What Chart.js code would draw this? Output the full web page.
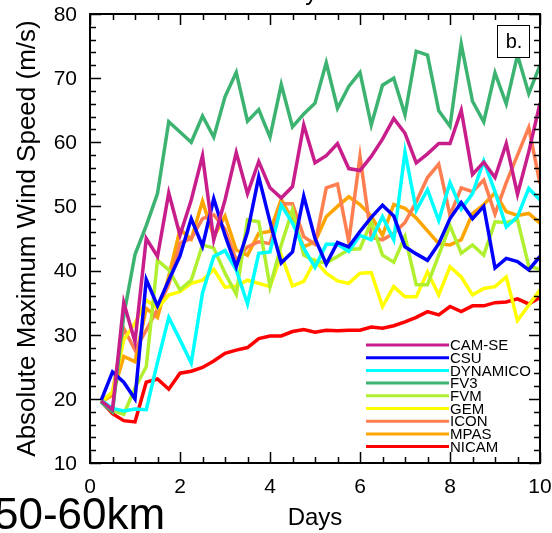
<!DOCTYPE html>
<html lang="en">
<head>
    <meta charset="UTF-8">
    <title>Absolute Maximum Wind Speed</title>
    <style>
        body {
            margin: 0;
            background-color: #fff;
            overflow: hidden;
        }
        .chart-container {
            width: 552px;
            height: 533px;
        }
    </style>
    <script src="https://cdn.jsdelivr.net/npm/chart.js"></script>
</head>
<body>
    <div class="chart-container">
        <canvas id="windChart" width="552" height="533"></canvas>
    </div>
    <script>
        // days (6-hourly output)
        const days = [0.25, 0.5, 0.75, 1, 1.25, 1.5, 1.75, 2, 2.25, 2.5,
                      2.75, 3, 3.25, 3.5, 3.75, 4, 4.25, 4.5, 4.75, 5,
                      5.25, 5.5, 5.75, 6, 6.25, 6.5, 6.75, 7, 7.25, 7.5,
                      7.75, 8, 8.25, 8.5, 8.75, 9, 9.25, 9.5, 9.75, 10];

        const camse = [19.7, 18.3, 35, 28.9, 45, 42.2, 52.1, 45.5, 51, 57.9,
                       44.8, 51, 58.4, 52, 57, 52.9, 51.3, 53.1, 62.7, 56.8,
                       57.9, 59.8, 55.9, 55.6, 57.8, 60.5, 63.7, 61.4, 56.8, 58.2,
                       59.8, 59.8, 65, 55, 56.9, 54.5, 59.8, 51.9, 58.5, 66.1];
        const csu = [19.8, 24.2, 22.6, 20, 38.6, 34.5, 38.5, 42.3, 48.1, 43.8,
                     51.2, 45.5, 40.6, 46, 54.6, 47.6, 41.2, 42.9, 51.6, 45,
                     41, 44.4, 43.7, 46.1, 48.3, 50.2, 48.5, 43.7, 42.6, 41.6,
                     44.2, 48.1, 50.6, 48.1, 50, 40.4, 41.9, 41.4, 40.1, 42.2];
        const dynamico = [19.8, 18.5, 18.1, 18.4, 18.3, 25.7, 32.7, 29.2, 25.6, 36.5,
                          42.2, 43.1, 40.1, 34.8, 42.7, 42.9, 50.2, 47.4, 43.5, 40.5,
                          44.1, 44.1, 43, 45.5, 44.8, 48.4, 44.8, 58.5, 49.4, 52.6,
                          47.8, 53.7, 49.6, 52, 57.1, 52.3, 46.8, 48.4, 52.8, 51];
        const fv3 = [19.5, 18, 33, 42.5, 47, 52, 63.2, 61.6, 60, 64.1,
                     60.8, 67.1, 70.9, 63.3, 65.1, 60.8, 69, 62.4, 64.4, 66.1,
                     72.4, 65.3, 68.7, 70.9, 62.7, 68.9, 70, 64.3, 74.2, 73.6,
                     64.9, 62.5, 75.3, 66.4, 63.2, 70.8, 66, 73.6, 67.6, 72];
        const fvm = [19.5, 18.2, 17.6, 21.7, 25, 41.6, 40.1, 37, 38.5, 44,
                     43.5, 39.6, 36.3, 47.9, 47.6, 37.5, 44, 49.5, 42.4, 41.5,
                     41.2, 42.2, 43.3, 43.4, 47.6, 42.4, 41.3, 45.3, 37.8, 37.8,
                     42.4, 47, 42.7, 44, 42.4, 47.6, 47.5, 47.9, 40.7, 40.2];
        const gem = [19.5, 21.1, 29.2, 31.8, 35.4, 34.1, 36.2, 36.7, 38, 38.5,
                     40.2, 37.4, 37.6, 38.5, 38, 37.5, 42.4, 37.6, 38.3, 41.6,
                     39.6, 38.4, 38, 39.6, 39.7, 34.4, 37.5, 35.9, 35.9, 39.8,
                     36.2, 40.6, 39, 36.2, 37.2, 37.5, 39, 32.2, 34.6, 37];
        const icon = [19.6, 21, 31, 27.6, 30.7, 34, 37.8, 44.3, 45, 48.1,
                      48.7, 46.5, 41.6, 43.7, 44.5, 44.2, 50.4, 50.4, 45.3, 44.1,
                      52.9, 53.5, 44.5, 57.8, 45.2, 44.8, 45.8, 47.5, 50.7, 54.5,
                      56.6, 48.6, 52.9, 52.3, 54.1, 48.8, 53.7, 58, 62.3, 53.5];
        const mpas = [19.5, 20.6, 26.6, 25.8, 34.1, 32.7, 39.1, 46.4, 44.9, 50.8,
                      45.3, 48.5, 43.2, 42.4, 45.8, 46.1, 51.1, 47.9, 43.7, 44.5,
                      48.4, 50, 51.5, 50.3, 48.5, 45.5, 50.3, 49.7, 48.2, 46.2,
                      44.2, 44, 44.8, 48.9, 50.3, 52.1, 49.2, 48.6, 48.9, 47.4];
        const nicam = [19.6, 17.7, 16.6, 16.4, 22.6, 23.1, 21.5, 24, 24.3, 24.9,
                       25.9, 27.1, 27.6, 28, 29.4, 29.8, 29.8, 30.5, 30.8, 30.4,
                       30.7, 30.6, 30.7, 30.7, 31.2, 31, 31.4, 32, 32.7, 33.6,
                       33.1, 34.4, 33.6, 34.5, 34.5, 35, 35.1, 35.6, 34.8, 35.8];

        const modelNames = ['CAM-SE', 'CSU', 'DYNAMICO', 'FV3', 'FVM', 'GEM', 'ICON', 'MPAS', 'NICAM'];
        const modelValues = [camse, csu, dynamico, fv3, fvm, gem, icon, mpas, nicam];
        const modelColors = ['#c81e8c', '#0000ff', '#00ffff', '#3cb371', '#b0f030',
                             '#ffff00', '#ff7f50', '#ffa500', '#ff0000'];

        const yTicks = [10, 20, 30, 40, 50, 60, 70, 80];
        const xTicks = [0, 2, 4, 6, 8, 10];

        const FONT = '"Liberation Sans", Arial, sans-serif';

        // inward NCL-style ticks, tick labels, frame, legend and extra labels
        const decorations = {
            id: 'decorations',
            afterDraw(chart) {
                const ctx = chart.ctx;
                const area = chart.chartArea;
                const xs = chart.scales.x;
                const ys = chart.scales.y;
                ctx.save();
                ctx.strokeStyle = '#000';

                // minor + major ticks
                ctx.lineWidth = 1.5;
                ctx.beginPath();
                for (let v = 10; v <= 80; v += 2) {
                    const y = Math.round(ys.getPixelForValue(v)) + 0.5;
                    const len = v % 10 === 0 ? 11 : 6;
                    ctx.moveTo(area.left, y); ctx.lineTo(area.left + len, y);
                    ctx.moveTo(area.right, y); ctx.lineTo(area.right - len, y);
                }
                for (let d = 0; d <= 10; d += 0.5) {
                    const x = Math.round(xs.getPixelForValue(d)) + 0.5;
                    const len = d % 2 === 0 ? 11 : 6;
                    ctx.moveTo(x, area.bottom); ctx.lineTo(x, area.bottom - len);
                    ctx.moveTo(x, area.top); ctx.lineTo(x, area.top + len);
                }
                ctx.stroke();

                // frame
                ctx.lineWidth = 2;
                ctx.strokeRect(area.left, area.top, area.right - area.left, area.bottom - area.top);

                // tick labels
                ctx.fillStyle = '#000';
                ctx.font = '21px ' + FONT;
                ctx.textAlign = 'right';
                ctx.textBaseline = 'middle';
                yTicks.forEach(v => ctx.fillText(String(v), area.left - 13, ys.getPixelForValue(v) + 1));
                ctx.textAlign = 'center';
                xTicks.forEach(d => ctx.fillText(String(d), xs.getPixelForValue(d), area.bottom + 24));

                // legend
                ctx.font = '15px ' + FONT;
                ctx.textAlign = 'left';
                chart.data.datasets.forEach((ds, i) => {
                    const y = 345 + i * 12.7;
                    ctx.strokeStyle = ds.borderColor;
                    ctx.lineWidth = 3;
                    ctx.beginPath();
                    ctx.moveTo(366, y);
                    ctx.lineTo(449, y);
                    ctx.stroke();
                    ctx.fillText(ds.label, 450, y + 1);
                });

                // panel label
                ctx.strokeStyle = '#000';
                ctx.lineWidth = 1;
                ctx.fillStyle = '#fff';
                ctx.fillRect(497.5, 25.5, 32, 32);
                ctx.strokeRect(497.5, 25.5, 32, 32);
                ctx.fillStyle = '#000';
                ctx.font = '20px ' + FONT;
                ctx.textAlign = 'center';
                ctx.fillText('b.', 514, 42);

                // cut-off title at the top
                ctx.font = '24px ' + FONT;
                ctx.textBaseline = 'alphabetic';
                ctx.fillText('Days', 302, 0);

                // resolution tag
                ctx.font = '44px ' + FONT;
                ctx.textAlign = 'left';
                ctx.fillText('50-60km', -6, 529);
                ctx.restore();
            }
        };

        new Chart(document.getElementById('windChart').getContext('2d'), {
            type: 'line',
            data: {
                datasets: modelNames.map((name, i) => ({
                    label: name,
                    data: days.map((d, k) => ({ x: d, y: modelValues[i][k] })),
                    borderColor: modelColors[i],
                    backgroundColor: modelColors[i],
                    borderWidth: 3.5,
                    pointRadius: 0,
                    tension: 0,
                    fill: false
                }))
            },
            options: {
                responsive: false,
                animation: false,
                devicePixelRatio: 1,
                layout: { padding: { top: 14, right: 12, left: 0, bottom: 0 } },
                plugins: {
                    legend: { display: false },
                    tooltip: { enabled: false }
                },
                scales: {
                    x: {
                        type: 'linear',
                        min: 0,
                        max: 10,
                        afterFit: s => { s.height = 70; },
                        grid: { display: false, drawTicks: false },
                        border: { display: false },
                        ticks: { display: false },
                        title: {
                            display: true,
                            text: 'Days',
                            color: '#000',
                            padding: { top: 0, bottom: 0 },
                            font: { family: FONT, size: 24 }
                        }
                    },
                    y: {
                        type: 'linear',
                        min: 10,
                        max: 80,
                        afterFit: s => { s.width = 90; },
                        grid: { display: false, drawTicks: false },
                        border: { display: false },
                        ticks: { display: false },
                        title: {
                            display: true,
                            text: 'Absolute Maximum Wind Speed (m/s)',
                            color: '#000',
                            padding: { top: 12, bottom: 0 },
                            font: { family: FONT, size: 26 }
                        }
                    }
                }
            },
            plugins: [decorations]
        });
    </script>
</body>
</html>
